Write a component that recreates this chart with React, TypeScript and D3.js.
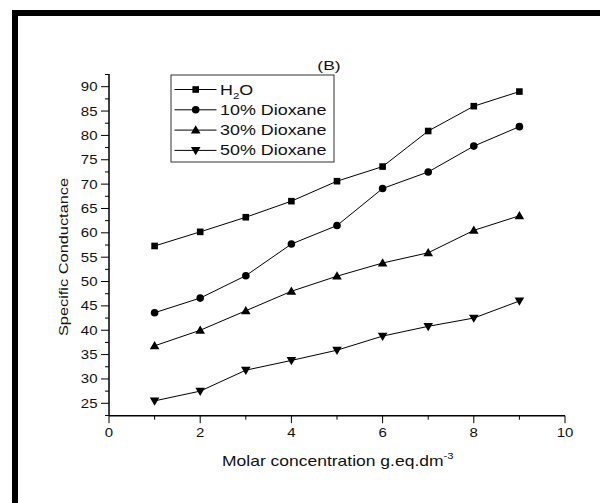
import React from "react";
import * as d3 from "d3";

const concentrations = [1, 2, 3, 4, 5, 6, 7, 8, 9];
const h2o = [57.3, 60.2, 63.2, 66.5, 70.6, 73.6, 80.9, 86.0, 89.0];
const dioxane10 = [43.6, 46.6, 51.2, 57.7, 61.5, 69.1, 72.5, 77.8, 81.8];
const dioxane30 = [36.8, 40.0, 44.0, 48.0, 51.1, 53.8, 55.9, 60.5, 63.5];
const dioxane50 = [25.5, 27.5, 31.8, 33.8, 35.9, 38.8, 40.8, 42.5, 46.0];
const seriesNames = ["H2O", "10% Dioxane", "30% Dioxane", "50% Dioxane"];
const markerTypes = ["square", "circle", "triangle", "triangleDown"];
const xTicks = [0, 2, 4, 6, 8, 10];
const yTicks = [25, 30, 35, 40, 45, 50, 55, 60, 65, 70, 75, 80, 85, 90];

const FONT = "'Liberation Sans', Arial, sans-serif";

function Marker({ type, x, y }: { type: string; x: number; y: number }) {
  if (type === "square") return <rect x={x - 3.3} y={y - 3.3} width={6.6} height={6.6} fill="#000" />;
  if (type === "circle") return <circle cx={x} cy={y} r={3.8} fill="#000" />;
  if (type === "triangle")
    return <path d={`M${x},${y - 4.8}L${x + 4.8},${y + 3.4}L${x - 4.8},${y + 3.4}Z`} fill="#000" />;
  return <path d={`M${x},${y + 4.8}L${x + 4.8},${y - 3.4}L${x - 4.8},${y - 3.4}Z`} fill="#000" />;
}

function T({
  x,
  y,
  sx = 1.25,
  rotate = 0,
  size,
  anchor = "start",
  dy,
  children,
}: {
  x: number;
  y: number;
  sx?: number;
  rotate?: number;
  size: number;
  anchor?: string;
  dy?: string;
  children: React.ReactNode;
}) {
  return (
    <g transform={`translate(${x},${y}) rotate(${rotate}) scale(${sx},1)`}>
      <text x={0} y={0} dy={dy} fontSize={size} textAnchor={anchor} fill="#111">
        {children}
      </text>
    </g>
  );
}

export default function App() {
  const x = d3.scaleLinear().domain([0, 10]).range([109, 565]);
  const y = d3.scaleLinear().domain([25, 90]).range([403.3, 86.7]);
  const yTop = y(92.6);
  const yBot = 415.7;
  const data = [h2o, dioxane10, dioxane30, dioxane50];
  const line = d3
    .line<number>()
    .x((_, i) => x(concentrations[i]))
    .y((d) => y(d));

  const xMinor = d3.range(1, 10, 2);
  const yMinor = d3.range(22.5, 93, 2.5).filter((v) => v % 5 !== 0);

  return (
    <svg
      width={600}
      height={503}
      style={{ position: "absolute", left: 0, top: 0, background: "#fff" }}
      fontFamily={FONT}
    >
      <rect x={0} y={0} width={600} height={503} fill="#fff" />
      {/* frame */}
      <path d="M15,503V13H600" fill="none" stroke="#000" strokeWidth={6} />
      {/* title */}
      <T x={329} y={70} size={13.5} anchor="middle" sx={1.3}>(B)</T>
      {/* axes */}
      <line x1={109} x2={109} y1={yTop} y2={yBot} stroke="#000" strokeWidth={1.5} />
      <line x1={109} x2={565} y1={yBot} y2={yBot} stroke="#000" strokeWidth={1.5} />
      {yTicks.map((t) => (
        <g key={"yt" + t}>
          <line x1={101} x2={109} y1={y(t)} y2={y(t)} stroke="#000" strokeWidth={1} />
          <T x={97.5} y={y(t)} dy="0.36em" size={12.5} sx={1.2} anchor="end">{t}</T>
        </g>
      ))}
      {yMinor.map((t) => (
        <line key={"ym" + t} x1={105} x2={109} y1={y(t)} y2={y(t)} stroke="#000" strokeWidth={1} />
      ))}
      {xTicks.map((t) => (
        <g key={"xt" + t}>
          <line x1={x(t)} x2={x(t)} y1={yBot} y2={yBot + 7.5} stroke="#000" strokeWidth={1} />
          <T x={x(t)} y={432.5} dy="0.36em" size={12.5} sx={1.2} anchor="middle">{t}</T>
        </g>
      ))}
      {xMinor.map((t) => (
        <line key={"xm" + t} x1={x(t)} x2={x(t)} y1={yBot} y2={yBot + 4} stroke="#000" strokeWidth={1} />
      ))}
      {/* axis labels */}
      <T x={63} y={257} rotate={-90} size={13} sx={1.26} anchor="middle" dy="0.35em">
        Specific Conductance
      </T>
      <T x={222} y={466} size={14} sx={1.25}>
        Molar concentration g.eq.dm
        <tspan fontSize={9} dy={-7}>-3</tspan>
      </T>
      {/* series */}
      {data.map((s, si) => (
        <g key={"s" + si}>
          <path d={line(s) || ""} fill="none" stroke="#000" strokeWidth={1} />
          {s.map((v, i) => (
            <Marker key={i} type={markerTypes[si]} x={x(concentrations[i])} y={y(v)} />
          ))}
        </g>
      ))}
      {/* legend */}
      <rect x={171} y={75} width={163} height={87} fill="#fff" stroke="#333" strokeWidth={1} />
      {seriesNames.map((name, i) => {
        const ly = 89.5 + i * 20.3;
        return (
          <g key={"lg" + i}>
            <line x1={174.5} x2={216.5} y1={ly} y2={ly} stroke="#000" strokeWidth={1} />
            <Marker type={markerTypes[i]} x={195.7} y={ly} />
            <T x={220} y={ly} dy="0.36em" size={14} sx={1.28}>
              {name === "H2O" ? (
                <>
                  H<tspan fontSize={9} dy={4}>2</tspan>
                  <tspan dy={-4}>O</tspan>
                </>
              ) : (
                name
              )}
            </T>
          </g>
        );
      })}
    </svg>
  );
}
